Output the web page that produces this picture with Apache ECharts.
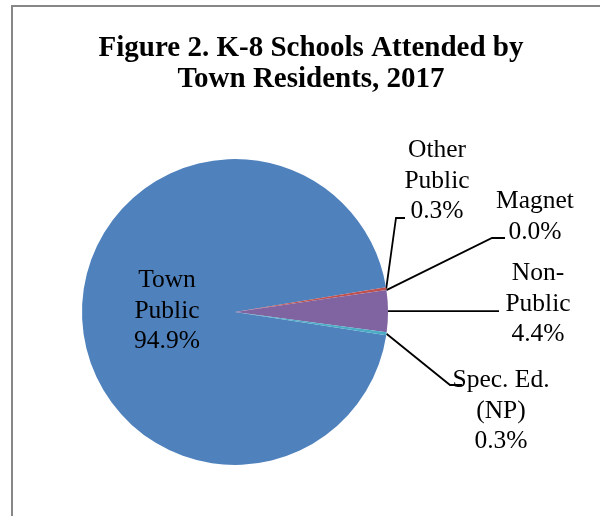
<!DOCTYPE html>
<html>
<head>
<meta charset="utf-8">
<script src="https://cdn.jsdelivr.net/npm/echarts@6/dist/echarts.min.js"></script>
<style>
  html, body { margin: 0; padding: 0; background: #fff; }
  #chart { width: 600px; height: 516px; }
</style>
</head>
<body>
<div id="chart"></div>
<script>
// School categories, in the order the slices run clockwise
const categories = ['Town Public', 'Other Public', 'Magnet', 'Non-Public', 'Spec. Ed. (NP)'];
// Share of K-8 residents (percent)
const shares = [94.9, 0.3, 0.0, 4.4, 0.3];
// Label text lines for each category
const labelNames = ['Town\nPublic', 'Other\nPublic', 'Magnet', 'Non-\nPublic', 'Spec. Ed.\n(NP)'];
const sliceColors = ['#4F81BD', '#C0504D', '#9BBB59', '#8064A2', '#4BACC6'];

// Where each label block sits, and the bend / end of its leader line
const labelSpots = [
  { x: 167, y: 311 },
  { x: 437, y: 181, bend: [396, 218], end: [405, 218] },
  { x: 535, y: 217, bend: [492, 238], end: [505, 238] },
  { x: 538, y: 304, bend: [444, null], end: [499, null] },
  { x: 501, y: 411, bend: [450, 385], end: [462, 385] }
];

const font = 'Liberation Serif, Times New Roman, serif';

const pieData = categories.map((name, i) => ({
  name: name,
  value: shares[i],
  itemStyle: { color: sliceColors[i] },
  label: i === 0 ? { position: 'inside' } : { position: 'outside' },
  labelLine: { show: i !== 0 }
}));

const chart = echarts.init(document.getElementById('chart'), null, { renderer: 'canvas' });

chart.setOption({
  backgroundColor: '#ffffff',
  animation: false,
  title: {
    text: 'Figure 2. K-8 Schools Attended by\nTown Residents, 2017',
    left: 306,
    top: 28,
    textAlign: 'center',
    textStyle: {
      fontFamily: font,
      fontWeight: 'bold',
      fontSize: 29,
      lineHeight: 31,
      color: '#000'
    }
  },
  graphic: [{
    type: 'rect',
    shape: { x: 12, y: 6, width: 800, height: 800 },
    style: { fill: 'none', stroke: '#878787', lineWidth: 2 },
    silent: true
  }],
  series: [{
    type: 'pie',
    center: [235, 312],
    radius: 153,
    startAngle: -8.7,
    clockwise: true,
    avoidLabelOverlap: false,
    data: pieData,
    itemStyle: { borderWidth: 0 },
    label: {
      show: true,
      fontFamily: font,
      fontSize: 25.5,
      lineHeight: 30.5,
      color: '#000',
      align: 'center',
      formatter: p => labelNames[p.dataIndex] + '\n' + p.value.toFixed(1) + '%'
    },
    labelLine: {
      show: true,
      lineStyle: { color: '#000', width: 1.8 }
    },
    labelLayout: function (params) {
      const spot = labelSpots[params.dataIndex];
      const out = {
        x: spot.x,
        y: spot.y,
        align: 'center',
        verticalAlign: 'middle'
      };
      const pts = params.labelLinePoints;
      if (spot.bend && pts && pts.length) {
        const start = pts[0];
        const by = spot.bend[1] == null ? start[1] : spot.bend[1];
        const ey = spot.end[1] == null ? start[1] : spot.end[1];
        out.labelLinePoints = [start, [spot.bend[0], by], [spot.end[0], ey]];
      }
      return out;
    }
  }]
});
</script>
</body>
</html>
